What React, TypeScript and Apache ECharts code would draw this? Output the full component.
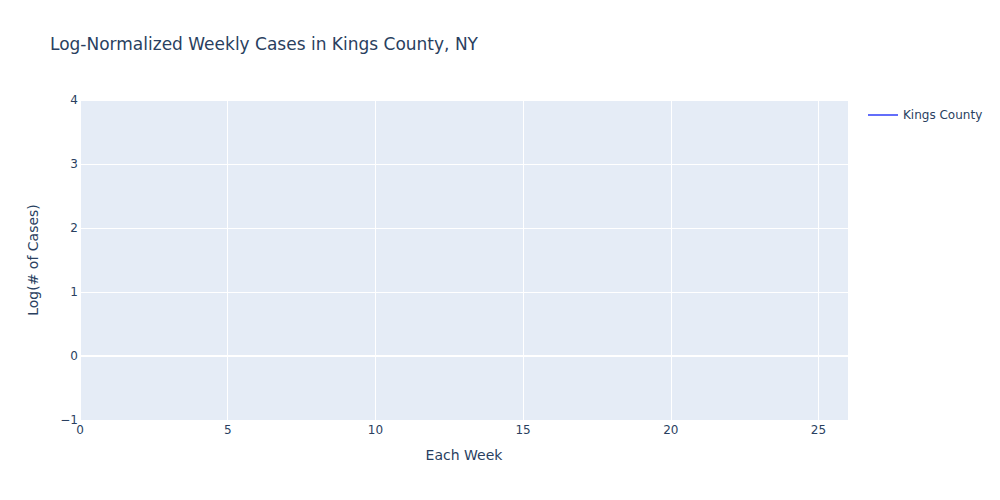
import React, { useEffect, useRef } from "react";
import * as echarts from "echarts";

const TITLE = "Log-Normalized Weekly Cases in Kings County, NY";
const SERIES_NAME = "Kings County";
const X_TITLE = "Each Week";
const Y_TITLE = "Log(# of Cases)";
// No data points are visible in the reference plot area.
const weeks: number[] = [];
const logCases: number[] = [];
const X_MIN = 0;
const X_MAX = 26;
const Y_MIN = -1;
const Y_MAX = 4;

const FONT = '"DejaVu Sans", verdana, arial, sans-serif';
const TEXT = "#2a3f5f";

export default function App() {
  const ref = useRef<HTMLDivElement>(null);
  useEffect(() => {
    if (!ref.current) return;
    const chart = echarts.init(ref.current, undefined, { renderer: "svg" });
    chart.setOption({
      animation: false,
      backgroundColor: "#ffffff",
      textStyle: { fontFamily: FONT },
      title: {
        text: TITLE,
        left: 50,
        top: 35,
        padding: 0,
        textStyle: { fontFamily: FONT, fontSize: 17, fontWeight: "normal", color: TEXT },
      },
      legend: {
        left: 868,
        top: 109,
        padding: 0,
        icon: "rect",
        itemWidth: 30,
        itemHeight: 2,
        textStyle: { fontFamily: FONT, fontSize: 12, color: TEXT },
        data: [SERIES_NAME],
      },
      grid: {
        left: 80,
        right: 152,
        top: 100,
        bottom: 80,
        show: true,
        backgroundColor: "#e5ecf6",
        borderWidth: 0,
      },
      xAxis: {
        type: "value",
        min: X_MIN,
        max: X_MAX,
        interval: 5,
        name: X_TITLE,
        nameLocation: "middle",
        nameGap: 28,
        nameTextStyle: { fontFamily: FONT, fontSize: 14, color: TEXT },
        axisLine: { show: false },
        axisTick: { show: false },
        axisLabel: { fontFamily: FONT, fontSize: 12, color: TEXT, margin: 4, showMaxLabel: false },
        splitLine: { show: true, lineStyle: { color: "#ffffff", width: 1 } },
      },
      yAxis: {
        type: "value",
        min: Y_MIN,
        max: Y_MAX,
        interval: 1,
        name: Y_TITLE,
        nameLocation: "middle",
        nameGap: 40,
        nameTextStyle: { fontFamily: FONT, fontSize: 14, color: TEXT },
        axisLine: { show: false },
        axisTick: { show: false },
        axisLabel: {
          fontFamily: FONT,
          fontSize: 12,
          color: TEXT,
          margin: 2,
          formatter: (v: number) => String(v).replace("-", "\u2212"),
        },
        splitLine: { show: true, lineStyle: { color: "#ffffff", width: 1 } },
      },
      series: [
        {
          name: SERIES_NAME,
          type: "line",
          color: "#636efa",
          showSymbol: false,
          lineStyle: { width: 2, color: "#636efa" },
          data: weeks.map((w, i) => [w, logCases[i]]),
          markLine: {
            silent: true,
            symbol: "none",
            label: { show: false },
            lineStyle: { color: "#ffffff", width: 2, type: "solid" },
            data: [{ yAxis: 0 }],
          },
        },
      ],
    });
    return () => chart.dispose();
  }, []);
  return (
    <div
      ref={ref}
      style={{ position: "fixed", left: 0, top: 0, width: 1000, height: 500 }}
    />
  );
}
